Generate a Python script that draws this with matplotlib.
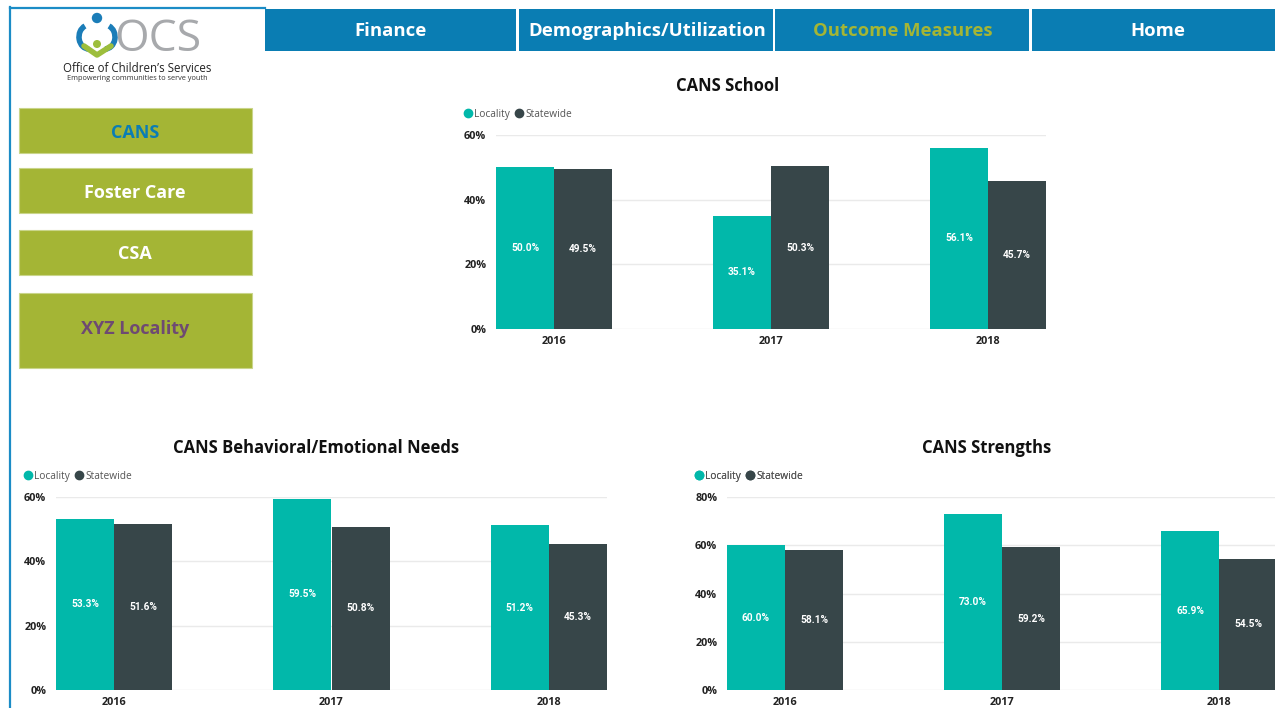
import matplotlib
matplotlib.use("Agg")
import matplotlib.pyplot as plt
from matplotlib.patches import Rectangle, Circle, Arc
from matplotlib.lines import Line2D
import numpy as np

W, H = 1275, 708

# ---------------- data ----------------
years = ["2016", "2017", "2018"]
series_names = ["Locality", "Statewide"]

school_locality = [50.0, 35.1, 56.1]
school_statewide = [49.5, 50.3, 45.7]

behavioral_locality = [53.3, 59.5, 51.2]
behavioral_statewide = [51.6, 50.8, 45.3]

strengths_locality = [60.0, 73.0, 65.9]
strengths_statewide = [58.1, 59.2, 54.5]

school_ticks = [0, 20, 40, 60]
behavioral_ticks = [0, 20, 40, 60]
strengths_ticks = [0, 20, 40, 60, 80]

nav_labels = ["Finance", "Demographics/Utilization", "Outcome Measures", "Home"]
side_labels = ["CANS", "Foster Care", "CSA", "XYZ Locality"]

# ---------------- styles ----------------
TEAL = "#01B8AA"
DARK = "#374649"
NAV_BLUE = "#0A7DB3"
GREEN = "#A4B535"
FONT = "Open Sans"

fig = plt.figure(figsize=(W / 100, H / 100), dpi=100)
fig.patch.set_facecolor("white")

# overlay in pixel coordinates
ov = fig.add_axes([0, 0, 1, 1], zorder=0)
ov.set_xlim(0, W)
ov.set_ylim(H, 0)
ov.axis("off")

# frame
ov.add_line(Line2D([10, 10], [7, H], color="#1B8CC6", lw=1.6))
ov.add_line(Line2D([10, 265], [7.5, 7.5], color="#1B8CC6", lw=1.6))

# nav bar
ov.add_patch(Rectangle((265, 9), W - 265, 42, color=NAV_BLUE, lw=0))
for sx in [517.5, 774, 1030.5]:
    ov.add_patch(Rectangle((sx - 1.3, 9), 2.6, 43, color="white", lw=0))
nav_centers = [391, 647, 903, 1158]
nav_colors = ["white", "white", "#A4B535", "white"]
for lab, cx, col in zip(nav_labels, nav_centers, nav_colors):
    ov.text(cx, 31, lab, ha="center", va="center", color=col,
            fontsize=13.3, fontweight="bold", family=FONT)

# side buttons
side_boxes = [(108, 153), (168, 213), (230, 275), (293, 368)]
side_text_y = [132.5, 193, 254, 329.5]
side_colors = ["#0A7DB5", "white", "white", "#6E4A72"]
for lab, (t, b), ty, col in zip(side_labels, side_boxes, side_text_y, side_colors):
    ov.add_patch(Rectangle((19, t), 233, b - t, facecolor=GREEN,
                           edgecolor="#C9D58A", lw=0.8))
    ov.text(135, ty, lab, ha="center", va="center", color=col,
            fontsize=13, fontweight="bold", family=FONT)

# logo
ov.add_patch(Circle((97, 18), 5.2, color="#1B7DB8", lw=0))
ov.add_patch(Arc((89, 37), 20, 24, theta1=90, theta2=250, color="#1B7DB8", lw=4))
ov.add_patch(Arc((105, 37), 20, 24, theta1=-70, theta2=90, color="#1B7DB8", lw=4))
ov.add_line(Line2D([84, 97, 111], [46, 55, 46], color="#9DBE3C", lw=4,
                   solid_capstyle="round"))
ov.add_patch(Circle((97, 44), 4, color="#9DBE3C", lw=0))
ov.text(158, 39.5, "OCS", ha="center", va="center", color="#A7A9AC",
        fontsize=32, family=FONT)
ov.text(137, 68, "Office of Children\u2019s Services", ha="center", va="center",
        color="#222222", fontsize=8.3, family=FONT)
ov.text(137, 79, "Empowering communities to serve youth", ha="center",
        va="center", color="#333333", fontsize=5.3, family=FONT)


def px_axes(left, top, right, bottom):
    return fig.add_axes([left / W, 1 - bottom / H, (right - left) / W,
                         (bottom - top) / H], zorder=2)


def draw_chart(left, top, right, bottom, ymax, ticks, loc, state, title,
               title_xy, legend_xy):
    ax = px_axes(left, top, right, bottom)
    x = np.arange(len(years))
    w = 58 / 217
    ax.bar(x - w / 2, loc, w, color=TEAL, zorder=3)
    ax.bar(x + w / 2, state, w, color=DARK, zorder=3)
    for xi, v in zip(x, loc):
        ax.text(xi - w / 2, v / 2, f"{v:.1f}%", ha="center", va="center",
                color="white", fontsize=7.3, fontweight="bold", family="Roboto",
                zorder=4)
    for xi, v in zip(x, state):
        ax.text(xi + w / 2, v / 2, f"{v:.1f}%", ha="center", va="center",
                color="white", fontsize=7.3, fontweight="bold", family="Roboto",
                zorder=4)
    ax.set_xlim(-w, len(years) - 1 + w)
    ax.set_ylim(0, ymax)
    ax.set_yticks(ticks)
    ax.set_yticklabels([f"{t}%" for t in ticks])
    ax.set_xticks(x)
    ax.set_xticklabels(years)
    for s in ax.spines.values():
        s.set_visible(False)
    ax.tick_params(length=0, labelsize=7.8, colors="#222222")
    ax.tick_params(axis="y", pad=7)
    ax.tick_params(axis="x", pad=5)
    for lab in ax.get_xticklabels() + ax.get_yticklabels():
        lab.set_fontweight("bold")
        lab.set_family(FONT)
    ax.grid(axis="y", color="#EAEAEA", lw=1, zorder=0)
    ax.set_axisbelow(True)
    ax.patch.set_alpha(0)
    ov.text(title_xy[0], title_xy[1], title, ha="center", va="center",
            fontsize=12, fontweight="bold", family=FONT, color="#111111")
    # legend
    lx, ly = legend_xy
    handles = [Line2D([], [], marker="o", ls="none", color=c, markersize=6)
               for c in (TEAL, DARK)]
    leg = ov.legend(handles, series_names, loc="center left",
                    bbox_to_anchor=(lx / W, 1 - ly / H),
                    bbox_transform=fig.transFigure, ncol=2, frameon=False,
                    fontsize=7.3, handlelength=0.6, handletextpad=0.3,
                    columnspacing=0.6, borderpad=0, borderaxespad=0)
    for t in leg.get_texts():
        t.set_color("#555555")
        t.set_family(FONT)
    ov.add_artist(leg)
    return ax


draw_chart(496, 135, 1046, 329, 60, school_ticks, school_locality,
           school_statewide, "CANS School", (728, 86), (465, 114.5))
draw_chart(56, 497, 607, 690, 60, behavioral_ticks, behavioral_locality,
           behavioral_statewide, "CANS Behavioral/Emotional Needs", (316, 448),
           (25, 476.5))
draw_chart(727, 497, 1277, 690, 80, strengths_ticks, strengths_locality,
           strengths_statewide, "CANS Strengths", (987, 448), (696, 476.5))

fig.savefig("out.png", dpi=100)
